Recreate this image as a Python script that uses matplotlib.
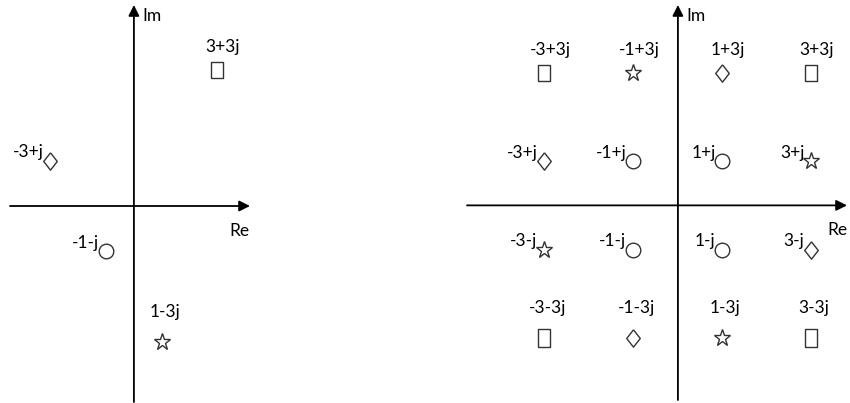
import matplotlib.pyplot as plt

# QPSK-like example (left)
qpsk_re = [3, -3, -1, 1]
qpsk_im = [3, 1, -1, -3]
qpsk_labels = ["3+3j", "-3+j", "-1-j", "1-3j"]
qpsk_markers = ["square", "diamond", "circle", "star"]

# 16-QAM (right)
qam_re = [-3, -1, 1, 3, -3, -1, 1, 3, -3, -1, 1, 3, -3, -1, 1, 3]
qam_im = [3, 3, 3, 3, 1, 1, 1, 1, -1, -1, -1, -1, -3, -3, -3, -3]
qam_labels = ["-3+3j", "-1+3j", "1+3j", "3+3j",
              "-3+j", "-1+j", "1+j", "3+j",
              "-3-j", "-1-j", "1-j", "3-j",
              "-3-3j", "-1-3j", "1-3j", "3-3j"]
qam_markers = ["square", "star", "diamond", "square",
               "diamond", "circle", "circle", "star",
               "star", "circle", "circle", "diamond",
               "rect", "diamond", "star", "rect"]

plt.rcParams['font.family'] = ['Lato', 'DejaVu Sans']

W, H = 850, 403
fig = plt.figure(figsize=(W / 100, H / 100), dpi=100)

# marker shape and size (points)
MSTYLE = {
    "square": ([(-0.8, -1), (0.8, -1), (0.8, 1), (-0.8, 1), (-0.8, -1)], 11.5),
    "rect": ([(-0.68, -1), (0.68, -1), (0.68, 1), (-0.68, 1), (-0.68, -1)], 13.5),
    "diamond": ([(0, 1), (0.78, 0), (0, -1), (-0.78, 0), (0, 1)], 12.5),
    "circle": ("o", 10.5),
    "star": ("*", 12.5),
}
FS = 12.5


def draw_panel(rect, xlim, ylim, re, im, labels, markers):
    ax = fig.add_axes(rect)
    ax.set_xlim(xlim)
    ax.set_ylim(ylim)
    ax.axis("off")

    arrow = dict(arrowstyle="-|>", color="black", lw=1.3, mutation_scale=16,
                 shrinkA=0, shrinkB=0)
    ax.annotate("", xy=(xlim[1], 0), xytext=(xlim[0], 0), arrowprops=arrow)
    ax.annotate("", xy=(0, ylim[1]), xytext=(0, ylim[0]), arrowprops=arrow)
    ax.annotate("Im", xy=(0, ylim[1]), xytext=(6, -8), textcoords="offset points",
                fontsize=FS, ha="left", va="center", annotation_clip=False)
    ax.annotate("Re", xy=(xlim[1], 0), xytext=(0, -18), textcoords="offset points",
                fontsize=FS, ha="right", va="center", annotation_clip=False)

    for x, y, lab, m in zip(re, im, labels, markers):
        shape, size = MSTYLE[m]
        ax.plot(x, y, marker=shape, markersize=size, markerfacecolor="white",
                markeredgecolor="#333333", markeredgewidth=1.0, linestyle="none")
        if y == 3:
            ax.annotate(lab, xy=(x, y), xytext=(4, 16), textcoords="offset points",
                        fontsize=FS, ha="center", va="center")
        elif y == -3:
            ax.annotate(lab, xy=(x, y), xytext=(2, 22), textcoords="offset points",
                        fontsize=FS, ha="center", va="center")
        else:
            ax.annotate(lab, xy=(x, y), xytext=(-5, 6), textcoords="offset points",
                        fontsize=FS, ha="right", va="center")
    return ax


draw_panel([10 / W, 1 / H, 240 / W, 397 / H], (-4.45, 4.17), (-4.31, 4.42),
           qpsk_re, qpsk_im, qpsk_labels, qpsk_markers)
draw_panel([467 / W, 3 / H, 380 / W, 395 / H], (-4.74, 3.8), (-4.4, 4.53),
           qam_re, qam_im, qam_labels, qam_markers)

fig.savefig("out.png", dpi=100)
